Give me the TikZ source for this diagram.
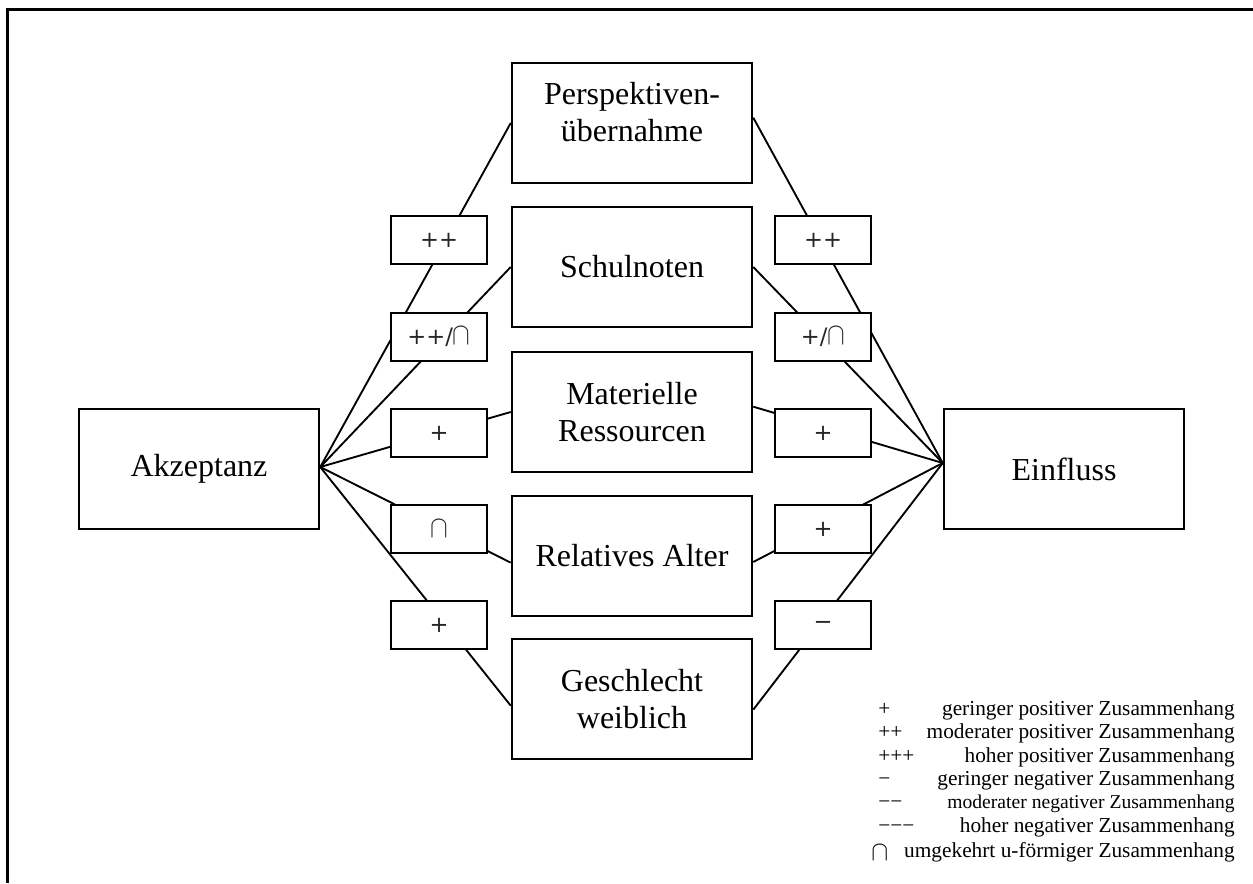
\documentclass[tikz,border=0pt]{standalone}
\usepackage{fontspec}
\setmainfont{Liberation Serif}
\newfontfamily\symfont{DejaVu Sans}
\newcommand\capsym{\scalebox{1.15}[1.35]{$\cap$}}
\newcommand\legcap{\scalebox{1.1}[1.2]{$\cap$}}
\begin{document}
\begin{tikzpicture}[x=0.75pt,y=-0.75pt,
  bigbox/.style={draw, line width=1.9pt, minimum width=180pt, minimum height=90pt, inner sep=0pt, align=center, font=\fontsize{24}{27.75}\selectfont},
  bigtext/.style={inner sep=0pt, align=center, font=\fontsize{24}{27.75}\selectfont},
  lbl/.style={draw, fill=white, line width=1.9pt, minimum width=72pt, minimum height=36pt, inner sep=0pt, font=\symfont\fontsize{17}{19}\selectfont, text=black!85},
  conn/.style={line width=1.4pt},
  legtext/.style={anchor=base east, inner sep=0pt, font=\fontsize{16}{18}\selectfont},
  legsym/.style={anchor=base west, inner sep=0pt, font=\fontsize{16}{18}\selectfont}]
\useasboundingbox (0,0) rectangle (1253,883);
\draw[line width=2.25pt] (7,883) -- (7,9) -- (1253,9);

% main boxes
\node[bigbox] (akz) at (199,469) {Akzeptanz};
\node[bigbox] (ein) at (1064,469) {Einfluss};
\node[bigbox] (per) at (632,123) {};
\node[bigtext] (pertext) at (632,112) {Perspektiven-\\übernahme};
\node[bigbox] (sch) at (632,267) {Schulnoten};
\node[bigbox] (mat) at (632,412) {Materielle\\Ressourcen};
\node[bigbox] (rel) at (632,556) {Relatives Alter};
\node[bigbox] (ges) at (632,699) {Geschlecht\\weiblich};

% connectors
\coordinate (aj) at ([yshift=1.5pt]akz.east);
\coordinate (ej) at ([yshift=4.5pt]ein.west);
\draw[conn] (aj) -- (per.west);
\draw[conn] (aj) -- (sch.west);
\draw[conn] (aj) -- (mat.west);
\draw[conn] (aj) -- ([yshift=-5pt]rel.west);
\draw[conn] (aj) -- ([yshift=-5pt]ges.west);
\draw[conn] (ej) -- ([yshift=4pt]per.east);
\draw[conn] (ej) -- (sch.east);
\draw[conn] (ej) -- ([yshift=4pt]mat.east);
\draw[conn] (ej) -- ([yshift=-4.5pt]rel.east);
\draw[conn] (ej) -- ([yshift=-8pt]ges.east);

% label boxes
\node[lbl] (l1) at (439,240) {++};
\node[lbl] (l2) at (439,337) {++/\capsym};
\node[lbl] (l3) at (439,433) {+};
\node[lbl] (l4) at (439,529) {\capsym};
\node[lbl] (l5) at (439,625) {+};
\node[lbl] (r1) at (823,240) {++};
\node[lbl] (r2) at (823,337) {+/\capsym};
\node[lbl] (r3) at (823,433) {+};
\node[lbl] (r4) at (823,529) {+};
\node[lbl] (r5) at (823,625) {−};

% legend
\node[legsym] (s1) at (878,715) {+};
\node[legsym] (s2) at (878,738) {++};
\node[legsym] (s3) at (878,762) {+++};
\node[legsym] (s4) at (878,785) {−};
\node[legsym] (s5) at (878,808) {−−};
\node[legsym] (s6) at (878,832) {−−−};
\node[legsym] (s7) at (871,860) {\legcap};
\node[legtext] (t1) at (1235,715) {geringer positiver Zusammenhang};
\node[legtext] (t2) at (1235,738) {moderater positiver Zusammenhang};
\node[legtext] (t3) at (1235,762) {hoher positiver Zusammenhang};
\node[legtext] (t4) at (1235,785) {geringer negativer Zusammenhang};
\node[legtext, font=\fontsize{14.7}{18}\selectfont] (t5) at (1235,808) {moderater negativer Zusammenhang};
\node[legtext] (t6) at (1235,832) {hoher negativer Zusammenhang};
\node[legtext] (t7) at (1235,857) {umgekehrt u-förmiger Zusammenhang};
\end{tikzpicture}
\end{document}
